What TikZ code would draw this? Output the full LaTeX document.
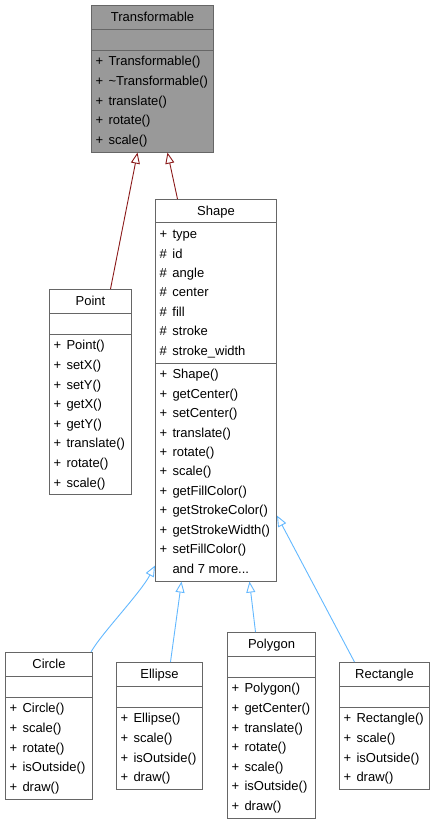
\documentclass[tikz,border=0pt]{standalone}
\usepackage{fontspec}
\setmainfont{Liberation Sans}
\usetikzlibrary{positioning,arrows.meta,shapes.multipart}
\definecolor{BoxGray}{HTML}{666666}
\definecolor{HiGray}{HTML}{999999}
\definecolor{InhRed}{HTML}{8B1A1A}
\definecolor{InhBlue}{HTML}{63B8FF}
\newcommand{\mem}[2]{\strut\makebox[13pt][l]{#1}#2}
\newcommand{\gap}{\rule[-5pt]{0pt}{17pt}}

\begin{document}
\begin{tikzpicture}[x=1pt, y=-1pt,
  cls/.style={draw=BoxGray, line width=1pt, fill=white, anchor=north west, rectangle split, rectangle split parts=3, rectangle split part align={center,left,left}, align=left, inner xsep=4pt, inner ysep=1.5pt, font=\fontsize{13}{19.6}\selectfont},
  inh/.style={line width=0.9pt, -{Triangle[length=11pt, width=9pt, fill=white]}}]
\useasboundingbox (0,0) rectangle (435,823);
\node[cls, fill=HiGray, minimum width=122pt] (trans) at (91,5) {\strut Transformable
  \nodepart{two}\gap
  \nodepart{three}\mem{+}{Transformable()}\\ \mem{+}{\textasciitilde Transformable()}\\ \mem{+}{translate()}\\ \mem{+}{rotate()}\\ \mem{+}{scale()}};
\node[cls, minimum width=82pt] (point) at (49,289) {\strut Point
  \nodepart{two}\gap
  \nodepart{three}\mem{+}{Point()}\\ \mem{+}{setX()}\\ \mem{+}{setY()}\\ \mem{+}{getX()}\\ \mem{+}{getY()}\\ \mem{+}{translate()}\\ \mem{+}{rotate()}\\ \mem{+}{scale()}};
\node[cls, minimum width=121pt, font=\fontsize{13}{19.45}\selectfont] (shape) at (155,199) {\strut Shape
  \nodepart{two}\mem{+}{type}\\ \mem{\#}{id}\\ \mem{\#}{angle}\\ \mem{\#}{center}\\ \mem{\#}{fill}\\ \mem{\#}{stroke}\\ \mem{\#}{stroke\_width}
  \nodepart{three}\mem{+}{Shape()}\\ \mem{+}{getCenter()}\\ \mem{+}{setCenter()}\\ \mem{+}{translate()}\\ \mem{+}{rotate()}\\ \mem{+}{scale()}\\ \mem{+}{getFillColor()}\\ \mem{+}{getStrokeColor()}\\ \mem{+}{getStrokeWidth()}\\ \mem{+}{setFillColor()}\\ \mem{}{and 7 more...}};
\node[cls, minimum width=87pt] (circ) at (5,652) {\strut Circle
  \nodepart{two}\gap
  \nodepart{three}\mem{+}{Circle()}\\ \mem{+}{scale()}\\ \mem{+}{rotate()}\\ \mem{+}{isOutside()}\\ \mem{+}{draw()}};
\node[cls, minimum width=86pt] (ellip) at (116,662) {\strut Ellipse
  \nodepart{two}\gap
  \nodepart{three}\mem{+}{Ellipse()}\\ \mem{+}{scale()}\\ \mem{+}{isOutside()}\\ \mem{+}{draw()}};
\node[cls, minimum width=88pt] (poly) at (227,632) {\strut Polygon
  \nodepart{two}\gap
  \nodepart{three}\mem{+}{Polygon()}\\ \mem{+}{getCenter()}\\ \mem{+}{translate()}\\ \mem{+}{rotate()}\\ \mem{+}{scale()}\\ \mem{+}{isOutside()}\\ \mem{+}{draw()}};
\node[cls, minimum width=90pt] (rect) at (339,662) {\strut Rectangle
  \nodepart{two}\gap
  \nodepart{three}\mem{+}{Rectangle()}\\ \mem{+}{scale()}\\ \mem{+}{isOutside()}\\ \mem{+}{draw()}};
% inheritance
\draw[inh, InhRed] ([xshift=20pt]point.north) -- ([xshift=-15pt]trans.south);
\draw[inh, InhRed] ([xshift=-38.5pt]shape.north) -- ([xshift=15pt]trans.south);
\draw[inh, InhBlue] ([xshift=-2pt]circ.north east) .. controls +(10,-18) and +(-15,28) .. ([yshift=16pt]shape.south west);
\draw[inh, InhBlue] ([xshift=11pt]ellip.north) -- ([xshift=-34.5pt]shape.south);
\draw[inh, InhBlue] ([xshift=-16pt]poly.north) -- ([xshift=33.5pt]shape.south);
\draw[inh, InhBlue] ([xshift=-30pt]rect.north) -- ([yshift=66pt]shape.south east);
\end{tikzpicture}
\end{document}
